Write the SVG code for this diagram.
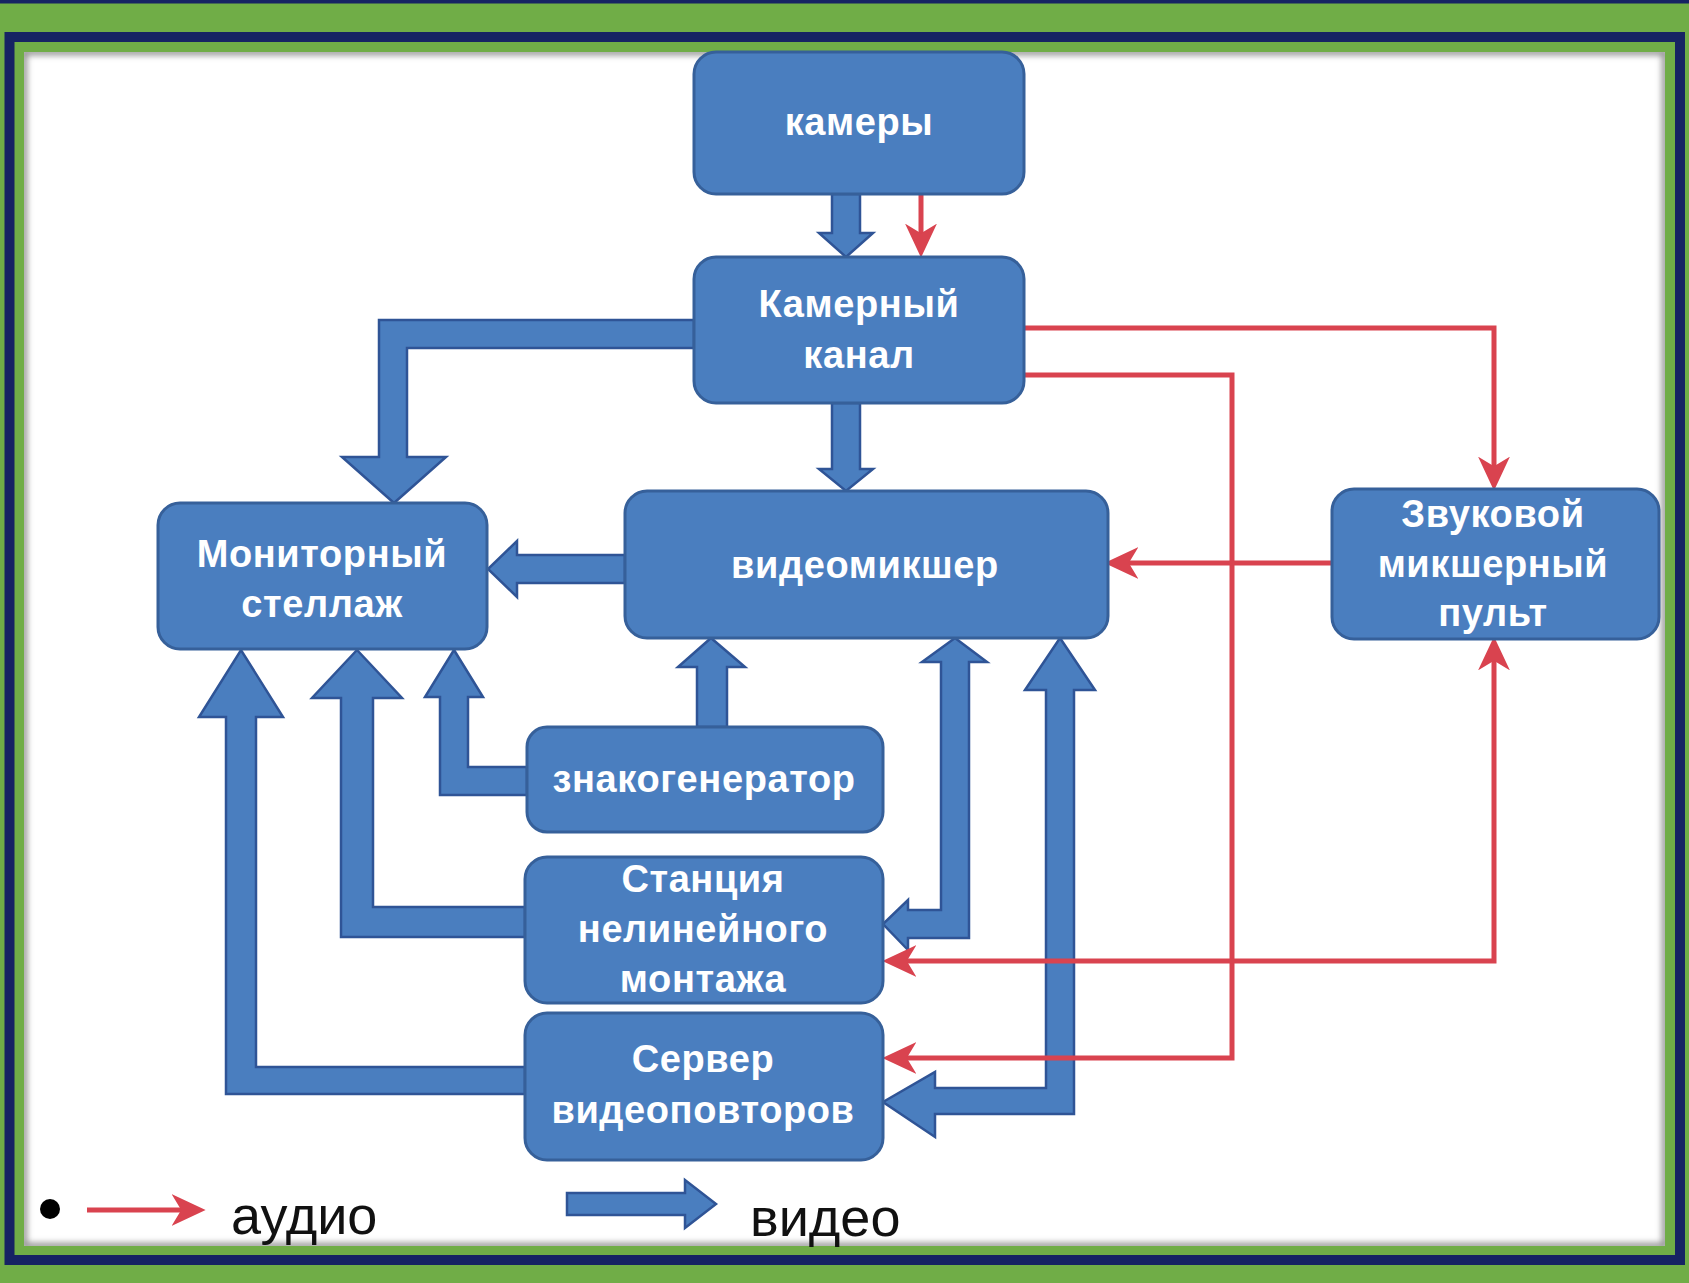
<svg xmlns="http://www.w3.org/2000/svg" width="1689" height="1283" viewBox="0 0 1689 1283">
<style>
.box{fill:#4a7ebf;stroke:#36609a;stroke-width:3}
.lbl{font-family:"Liberation Sans",Arial,sans-serif;font-weight:bold;font-size:38px;letter-spacing:0.6px;fill:#ffffff;text-anchor:middle}
.vid{fill:#4a7ebf;stroke:#2f5496;stroke-width:2.5;stroke-linejoin:miter}
.aud{fill:none;stroke:#d9434f;stroke-width:5}
.leg{font-family:"Liberation Sans",Arial,sans-serif;font-size:54px;fill:#111111}
</style>
<defs>
<marker id="ra" markerUnits="userSpaceOnUse" markerWidth="34" markerHeight="34" viewBox="0 0 32 32" refX="22" refY="16" orient="auto-start-reverse">
<path d="M0,1 L32,16 L0,31 L9,16 Z" fill="#d9434f"/>
</marker>
<clipPath id="wc"><rect x="24" y="52" width="1641" height="1194"/></clipPath>
<filter id="blur" x="-5%" y="-5%" width="110%" height="110%"><feGaussianBlur stdDeviation="3"/></filter>
</defs>
<rect x="0" y="0" width="1689" height="1283" fill="#70ad47"/>
<rect x="0" y="0" width="1689" height="3.5" fill="#162363"/>
<rect x="9.5" y="37" width="1670.5" height="1223" fill="none" stroke="#162363" stroke-width="10"/>
<rect x="24" y="52" width="1641" height="1194" fill="#ffffff"/>
<g clip-path="url(#wc)"><rect x="24" y="52" width="1641" height="1194" fill="none" stroke="#8a8a8a" stroke-width="6" filter="url(#blur)"/></g>

<g id="connectors">
<path class="vid" d="M832,194 L860,194 L860,233 L873,233 L846,257 L819,233 L832,233 Z"/>
<path class="vid" d="M832,403 L860,403 L860,469 L873,469 L846,491 L819,469 L832,469 Z"/>
<path class="vid" d="M694,320 L379,320 L379,457 L342,457 L394,503 L446,457 L407,457 L407,348 L694,348 Z"/>
<path class="vid" d="M625,555 L517,555 L517,541 L488,569 L517,597 L517,583 L625,583 Z"/>
<path class="vid" d="M527,767 L468,767 L468,697 L483,697 L454,650 L425,697 L440,697 L440,795 L527,795 Z"/>
<path class="vid" d="M525,907 L373,907 L373,698 L402,698 L357,650 L312,698 L341,698 L341,937 L525,937 Z"/>
<path class="vid" d="M525,1067 L256,1067 L256,717 L283,717 L241,650 L199,717 L226,717 L226,1094 L525,1094 Z"/>
<path class="vid" d="M697,727 L697,667 L678,667 L711,638 L745,667 L727,667 L727,727 Z"/>
<path class="vid" d="M955,638 L987,662 L969,662 L969,938 L908,938 L908,950 L883,924 L908,900 L908,910 L941,910 L941,662 L922,662 Z"/>
<path class="vid" d="M1060,638 L1095,690 L1074,690 L1074,1114 L935,1114 L935,1137 L883,1102 L935,1072 L935,1088 L1046,1088 L1046,690 L1025,690 Z"/>
<path class="aud" d="M921,194 L921,247" marker-end="url(#ra)"/>
<path class="aud" d="M1024,328 L1494,328 L1494,480" marker-end="url(#ra)"/>
<path class="aud" d="M1024,375 L1232,375 L1232,1058 L893,1058" marker-end="url(#ra)"/>
<path class="aud" d="M1332,563 L1115,563" marker-end="url(#ra)"/>
<path class="aud" d="M893,961 L1494,961 L1494,647" marker-start="url(#ra)" marker-end="url(#ra)"/>
</g>

<g id="n-kamery"><rect class="box" x="694" y="52" width="330" height="142" rx="22"/><text class="lbl" x="859" y="135">камеры</text></g>
<g id="n-kanal"><rect class="box" x="694" y="257" width="330" height="146" rx="22"/><text class="lbl" x="859" y="317">Камерный</text><text class="lbl" x="859" y="368">канал</text></g>
<g id="n-monitor"><rect class="box" x="158" y="503" width="329" height="146" rx="22"/><text class="lbl" x="322" y="567">Мониторный</text><text class="lbl" x="322" y="617">стеллаж</text></g>
<g id="n-mixer"><rect class="box" x="625" y="491" width="483" height="147" rx="22"/><text class="lbl" x="865" y="578">видеомикшер</text></g>
<g id="n-sound"><rect class="box" x="1332" y="489" width="327" height="150" rx="22"/><text class="lbl" x="1493" y="527">Звуковой</text><text class="lbl" x="1493" y="577">микшерный</text><text class="lbl" x="1493" y="626">пульт</text></g>
<g id="n-znak"><rect class="box" x="527" y="727" width="356" height="105" rx="20"/><text class="lbl" x="704" y="792">знакогенератор</text></g>
<g id="n-stanciya"><rect class="box" x="525" y="857" width="358" height="146" rx="22"/><text class="lbl" x="703" y="892">Станция</text><text class="lbl" x="703" y="942">нелинейного</text><text class="lbl" x="703" y="992">монтажа</text></g>
<g id="n-server"><rect class="box" x="525" y="1013" width="358" height="147" rx="22"/><text class="lbl" x="703" y="1072">Сервер</text><text class="lbl" x="703" y="1123">видеоповторов</text></g>

<g id="legend">
<circle cx="50" cy="1209" r="10" fill="#000000"/>
<path class="aud" d="M87,1210 L195,1210" stroke-width="6" marker-end="url(#ra)"/>
<text class="leg" x="231" y="1234">аудио</text>
<path class="vid" d="M567,1193 L685,1193 L685,1180 L716,1204 L685,1228 L685,1215 L567,1215 Z"/>
<text class="leg" x="750" y="1236">видео</text>
</g>
</svg>
